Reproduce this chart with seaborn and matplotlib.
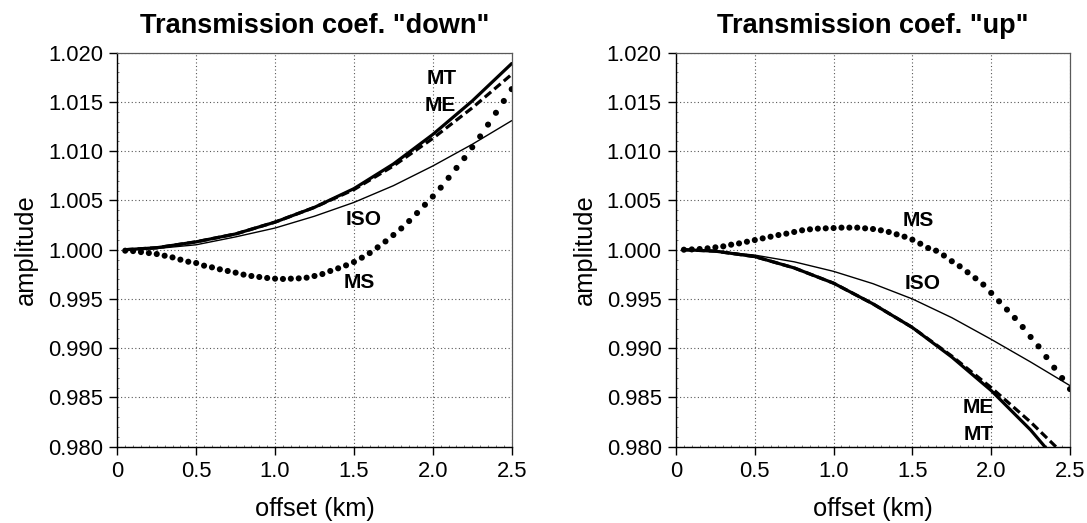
import numpy as np
import pandas as pd
import matplotlib
matplotlib.use("Agg")
import matplotlib.pyplot as plt
import seaborn as sns
from matplotlib.ticker import AutoMinorLocator

# ---------------- data ----------------
offset_line = [0.05, 0.25, 0.5, 0.75, 1.0, 1.25, 1.5, 1.75, 2.0, 2.25, 2.5]

down_MT = [1.0000, 1.0002, 1.0008, 1.0016, 1.0028, 1.0043, 1.0062, 1.0087, 1.0117, 1.0151, 1.0189]
down_ME = [1.0000, 1.0002, 1.0008, 1.0016, 1.0028, 1.0043, 1.0061, 1.0085, 1.0113, 1.0144, 1.0178]
down_ISO = [1.0000, 1.00012, 1.0005, 1.0013, 1.0022, 1.0034, 1.0048, 1.0065, 1.0085, 1.0107, 1.0131]

up_MT = [1.0000, 0.99985, 0.9993, 0.99815, 0.9966, 0.9945, 0.9921, 0.9891, 0.9857, 0.9817, 0.9770]
up_ME = [1.0000, 0.99985, 0.9993, 0.99815, 0.9966, 0.9945, 0.9921, 0.9892, 0.9860, 0.9825, 0.9786]
up_ISO = [1.0000, 0.99986, 0.99945, 0.99877, 0.9978, 0.99655, 0.9950, 0.9931, 0.9909, 0.9886, 0.9862]

offset_dots = np.round(np.arange(1, 51) * 0.05, 2)
down_MS = [0.99990, 0.99986, 0.99976, 0.99966, 0.99956, 0.99939, 0.99922, 0.99899, 0.99878, 0.99865,
           0.99838, 0.99821, 0.99801, 0.99784, 0.99767, 0.99747, 0.99733, 0.99723, 0.99713, 0.99706,
           0.99703, 0.99706, 0.99709, 0.99716, 0.99733, 0.99753, 0.99784, 0.99811, 0.99841, 0.99875,
           0.99919, 0.99966, 1.00024, 1.00084, 1.00149, 1.00216, 1.00291, 1.00372, 1.00456, 1.0054,
           1.0063, 1.0073, 1.0083, 1.0093, 1.0104, 1.0115, 1.0127, 1.0139, 1.0151, 1.0163]
up_MS = [1.00000, 1.00003, 1.00007, 1.00014, 1.00024, 1.00034, 1.00051, 1.00064, 1.00081, 1.00098,
         1.00115, 1.00132, 1.00149, 1.00163, 1.00180, 1.00197, 1.00207, 1.00214, 1.00217, 1.00220,
         1.00224, 1.00224, 1.00224, 1.00217, 1.00210, 1.00197, 1.00180, 1.00156, 1.00132, 1.00102,
         1.00061, 1.00017, 0.99990, 0.99941, 0.99883, 0.99832, 0.99771, 0.99710, 0.99646, 0.99561,
         0.99476, 0.99392, 0.99307, 0.99215, 0.99114, 0.99019, 0.98910, 0.98802, 0.98697, 0.98585]

titles = ['Transmission coef. "down"', 'Transmission coef. "up"']
x_ticks = [0, 0.5, 1.0, 1.5, 2.0, 2.5]
x_ticklabels = ["0", "0.5", "1.0", "1.5", "2.0", "2.5"]
y_ticks = [0.980, 0.985, 0.990, 0.995, 1.000, 1.005, 1.010, 1.015, 1.020]
y_ticklabels = ["0.980", "0.985", "0.990", "0.995", "1.000", "1.005", "1.010", "1.015", "1.020"]

# labels: (text, x, y)
labels_down = [("MT", 2.056, 1.0174), ("ME", 2.05, 1.01466), ("ISO", 1.56, 1.0031), ("MS", 1.536, 0.99664)]
labels_up = [("MS", 1.535, 1.0030), ("ISO", 1.562, 0.99659), ("ME", 1.921, 0.98396), ("MT", 1.921, 0.98126)]

# ---------------- style ----------------
sns.set_style("ticks")
plt.rcParams['font.family'] = ['Liberation Sans', 'DejaVu Sans']
plt.rcParams['text.color'] = 'black'
plt.rcParams['axes.labelcolor'] = 'black'

fig = plt.figure(figsize=(10.87, 5.23), dpi=100)
ax1 = fig.add_axes([117.3 / 1087, (523 - 446.7) / 523, 394.4 / 1087, 394 / 523])
ax2 = fig.add_axes([676.0 / 1087, (523 - 446.7) / 523, 394.0 / 1087, 394 / 523])

panels = [
    (ax1, down_MT, down_ME, down_ISO, down_MS, labels_down, titles[0]),
    (ax2, up_MT, up_ME, up_ISO, up_MS, labels_up, titles[1]),
]

for ax, mt, me, iso, ms, labs, title in panels:
    df = pd.DataFrame({"offset": offset_line, "MT": mt, "ME": me, "ISO": iso})
    dfd = pd.DataFrame({"offset": offset_dots, "MS": ms})
    sns.lineplot(data=df, x="offset", y="ISO", ax=ax, color="black", linewidth=1.0)
    sns.lineplot(data=df, x="offset", y="ME", ax=ax, color="black", linewidth=2.3)
    ax.lines[-1].set_dashes((2.6, 1.3))
    sns.lineplot(data=df, x="offset", y="MT", ax=ax, color="black", linewidth=2.3)
    sns.scatterplot(data=dfd, x="offset", y="MS", ax=ax, color="black", s=19,
                    edgecolor="none", zorder=3, clip_on=True)

    for txt, lx, ly in labs:
        ax.text(lx, ly, txt, ha="center", va="center", fontsize=15, fontweight="bold",
                color="black", zorder=5)

    ax.set_xlim(0, 2.5)
    ax.set_ylim(0.980, 1.020)
    ax.set_xticks(x_ticks, x_ticklabels)
    ax.set_yticks(y_ticks, y_ticklabels)
    ax.xaxis.set_minor_locator(AutoMinorLocator(10))
    ax.yaxis.set_minor_locator(AutoMinorLocator(5))
    ax.tick_params(axis="both", which="major", direction="out", length=5.8, width=1.0,
                   labelsize=15.8, pad=4.5, colors="black")
    ax.tick_params(axis="both", which="minor", direction="in", length=1.5, width=0.6,
                   colors="0.4")
    ax.grid(True, which="major", color="0.35", linestyle=(0, (1, 2.2)), linewidth=0.8)
    ax.set_axisbelow(True)
    for s in ["left", "bottom"]:
        ax.spines[s].set_color("black")
        ax.spines[s].set_linewidth(1.0)
    for s in ["top", "right"]:
        ax.spines[s].set_visible(True)
        ax.spines[s].set_color("0.35")
        ax.spines[s].set_linewidth(0.9)
        ax.spines[s].set_linestyle((0, (2, 1)))
    ax.set_xlabel("offset (km)", fontsize=18.4, labelpad=11, color="black")
    ax.set_ylabel("amplitude", fontsize=18.4, labelpad=7, color="black")
    ax.set_title(title, fontsize=19.5, fontweight="bold", pad=14, color="black")

fig.savefig("out.png", dpi=100)
